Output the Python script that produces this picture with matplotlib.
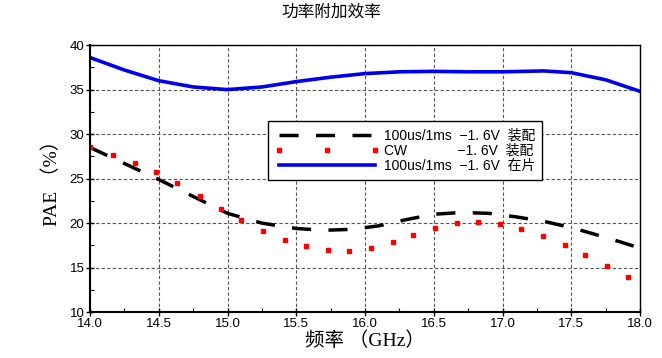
import matplotlib.pyplot as plt
from matplotlib.ticker import MultipleLocator

plt.rcParams['font.family'] = ['Liberation Sans', 'Noto Sans CJK SC']

# CW -1.6V 装配 (dots)
cw_freq = [14.0, 14.17, 14.33, 14.48, 14.63, 14.8, 14.95, 15.1, 15.26, 15.42, 15.57, 15.73, 15.88,
           16.04, 16.2, 16.35, 16.51, 16.67, 16.82, 16.98, 17.13, 17.29, 17.45, 17.6, 17.76, 17.91]
cw_pae = [28.6, 27.7, 26.8, 25.7, 24.5, 23.0, 21.6, 20.3, 19.1, 18.1, 17.4, 17.0, 16.9,
          17.2, 17.9, 18.7, 19.5, 20.0, 20.1, 19.9, 19.3, 18.6, 17.5, 16.4, 15.2, 14.0]

# 100us/1ms -1.6V 装配 (dashed)
pulse_freq = [14.0, 14.25, 14.5, 14.75, 15.0, 15.25, 15.5, 15.7, 15.9, 16.1, 16.3, 16.5, 16.7,
              16.9, 17.1, 17.3, 17.5, 17.75, 18.0]
pulse_pae = [28.5, 26.7, 24.9, 23.0, 21.1, 20.0, 19.4, 19.2, 19.3, 19.7, 20.4, 21.0, 21.2,
             21.1, 20.7, 20.2, 19.5, 18.4, 17.2]

# 100us/1ms -1.6V 在片 (solid blue)
chip_freq = [14.0, 14.25, 14.5, 14.75, 15.0, 15.25, 15.5, 15.75, 16.0, 16.25, 16.5, 16.75,
             17.0, 17.3, 17.5, 17.75, 18.0]
chip_pae = [38.6, 37.2, 36.0, 35.3, 35.0, 35.3, 35.9, 36.4, 36.8, 37.0, 37.05, 37.0,
            37.0, 37.1, 36.9, 36.1, 34.8]

fig = plt.figure(figsize=(6.62, 3.58), dpi=100)
ax = fig.add_axes([0.136, 0.128, 0.831, 0.746])

ax.plot(pulse_freq, pulse_pae, color='black', lw=2.5, dashes=(5.5, 5),
        label='100us/1ms  \u22121. 6V  装配')
ax.plot(cw_freq, cw_pae, color='red', ls='none', marker='s', ms=2.4, mec='red',
        label='CW             \u22121. 6V  装配')
ax.plot(chip_freq, chip_pae, color='#0000ee', lw=2.6,
        label='100us/1ms  \u22121. 6V  在片')

ax.set_xlim(14, 18)
ax.set_ylim(10, 40)
ax.xaxis.set_major_locator(MultipleLocator(0.5))
ax.xaxis.set_minor_locator(MultipleLocator(0.25))
ax.yaxis.set_major_locator(MultipleLocator(5))
ax.yaxis.set_minor_locator(MultipleLocator(2.5))
ax.set_xticklabels([f'{v:.1f}' for v in ax.get_xticks()])
ax.tick_params(which='major', direction='inout', length=6, width=1, labelsize=9.5, pad=1)
ax.tick_params(which='minor', direction='in', length=3, width=0.8)
ax.grid(True, which='major', ls='--', color='#555555', lw=0.8, dashes=(3, 2))
for s in ax.spines.values():
    s.set_linewidth(1.0)
ax.spines['left'].set_linewidth(1.5)
ax.spines['bottom'].set_linewidth(1.5)

ax.set_xlabel('频率 （GHz）', fontsize=14, family=['Liberation Serif', 'Noto Sans CJK SC'], labelpad=1)
ax.set_ylabel('PAE （%）', fontsize=14, family=['Liberation Serif', 'Noto Sans CJK SC'], labelpad=6)
fig.suptitle('功率附加效率', fontsize=12, y=0.99, family=['Noto Sans CJK SC'])

leg = ax.legend(loc='upper left', bbox_to_anchor=(0.324, 0.714), fontsize=10, handlelength=7.5,
                numpoints=3, fancybox=False, edgecolor='black', framealpha=1,
                borderpad=0.5, labelspacing=0.1, handletextpad=0.3, borderaxespad=0)
leg.get_frame().set_linewidth(1.0)

fig.savefig('out.png', dpi=100)
